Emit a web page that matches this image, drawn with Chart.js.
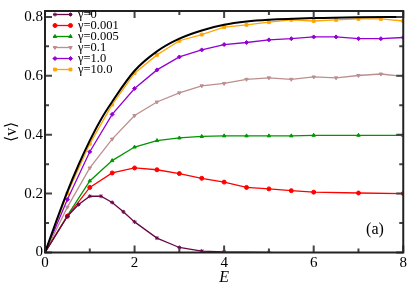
<!DOCTYPE html>
<html>
<head>
<meta charset="utf-8">
<script src="https://cdn.jsdelivr.net/npm/chart.js@4/dist/chart.umd.min.js"></script>
<style>
  html, body { margin: 0; padding: 0; background: #fff; }
  canvas { display: block; }
</style>
</head>
<body>
<canvas id="chart" width="409" height="283"></canvas>
<script>
// field values E on the x axis
const eHalf = [0, 0.5, 1, 1.5, 2, 2.5, 3, 3.5, 4, 4.5, 5, 5.5, 6, 6.5, 7, 7.5, 8]
const eSparse = [0, 0.5, 1, 1.5, 2, 2.5, 3, 3.5, 4, 4.5, 5, 5.5, 6, 7, 8]
const eZero = [0, 0.5, 0.75, 1, 1.25, 1.5, 1.75, 2, 2.5, 3, 3.5, 4, 5]
const eExact = [0, 0.25, 0.5, 0.75, 1, 1.25, 1.5, 2, 2.5, 3, 3.5, 4, 4.5, 5, 6, 7, 8]

// <v> for each gamma
const vGamma0 = [0, 0.123, 0.163, 0.191, 0.191, 0.170, 0.138, 0.104, 0.049, 0.017, 0.005, 0.002, 0.0]
const vGamma0001 = [0, 0.123, 0.221, 0.270, 0.287, 0.281, 0.268, 0.252, 0.239, 0.221, 0.216, 0.210, 0.205, 0.202, 0.200]
const vGamma0005 = [0, 0.125, 0.243, 0.312, 0.358, 0.380, 0.389, 0.394, 0.396, 0.396, 0.396, 0.396, 0.398, 0.398, 0.398]
const vGamma01 = [0, 0.154, 0.287, 0.385, 0.465, 0.511, 0.542, 0.566, 0.574, 0.588, 0.593, 0.588, 0.596, 0.593, 0.601, 0.606, 0.598]
const vGamma1 = [0, 0.180, 0.342, 0.469, 0.557, 0.620, 0.664, 0.688, 0.706, 0.713, 0.722, 0.726, 0.732, 0.732, 0.726, 0.726, 0.730]
const vGamma10 = [0, 0.200, 0.369, 0.502, 0.609, 0.671, 0.719, 0.740, 0.765, 0.773, 0.782, 0.790, 0.786, 0.790, 0.793, 0.793, 0.786]
const vExact = [0, 0.106, 0.207, 0.298, 0.380, 0.452, 0.512, 0.617, 0.683, 0.726, 0.754, 0.773, 0.784, 0.790, 0.796, 0.799, 0.800]

const xTicks = [0, 2, 4, 6, 8]
const yTicks = [0, 0.2, 0.4, 0.6, 0.8]

const serif = '"Liberation Serif", "Times New Roman", serif'

const pair = (xs, ys) => ys.map((y, i) => ({ x: xs[i], y: y }))

const series = function(label, xs, ys, color, style, rotation) {
    return {
        label: label,
        data: pair(xs, ys),
        borderColor: color,
        backgroundColor: color,
        borderWidth: 1.3,
        pointStyle: style,
        pointRotation: rotation || 0,
        pointRadius: 2,
        pointBorderWidth: 1,
        tension: 0
    }
}

const datasets = [
    {
        label: 'exact',
        data: pair(eExact, vExact),
        borderColor: '#000',
        borderWidth: 2,
        pointRadius: 0,
        cubicInterpolationMode: 'monotone',
        legend: false
    },
    series('γ=0', eZero, vGamma0, 'rgb(103,7,72)', 'star'),
    series('γ=0.001', eSparse, vGamma0001, 'rgb(255,0,0)', 'circle'),
    series('γ=0.005', eSparse, vGamma0005, 'rgb(0,150,0)', 'triangle'),
    series('γ=0.1', eHalf, vGamma01, 'rgb(188,143,143)', 'triangle', 180),
    series('γ=1.0', eHalf, vGamma1, 'rgb(148,0,211)', 'rectRot'),
    series('γ=10.0', eHalf, vGamma10, 'rgb(255,165,0)', 'rect')
]

// frame, inward ticks, legend and panel tag
const decor = {
    id: 'decor',
    afterDraw(chart) {
        const ctx = chart.ctx
        const a = chart.chartArea
        const xs = chart.scales.x
        const ys = chart.scales.y
        ctx.save()

        ctx.strokeStyle = '#444'
        ctx.lineWidth = 2
        ctx.beginPath()
        for (let e = 0; e <= 8; e += 1) {
            const px = xs.getPixelForValue(e)
            const len = e % 2 === 0 ? 7 : 4
            ctx.moveTo(px, a.bottom); ctx.lineTo(px, a.bottom - len)
            ctx.moveTo(px, a.top); ctx.lineTo(px, a.top + len)
        }
        for (let k = 0; k <= 8; k++) {
            const py = ys.getPixelForValue(k / 10)
            const len = k % 2 === 0 ? 7 : 4
            ctx.moveTo(a.left, py); ctx.lineTo(a.left + len, py)
            ctx.moveTo(a.right, py); ctx.lineTo(a.right - len, py)
        }
        ctx.stroke()

        ctx.strokeStyle = '#222'
        ctx.lineWidth = 2
        ctx.strokeRect(a.left, a.top, a.right - a.left, a.bottom - a.top)

        // legend
        ctx.font = '12.5px ' + serif
        ctx.textBaseline = 'middle'
        ctx.textAlign = 'left'
        chart.data.datasets.filter((d) => d.legend !== false).forEach((d, i) => {
            const y = 14.5 + 11 * i
            ctx.strokeStyle = d.borderColor
            ctx.fillStyle = d.backgroundColor
            ctx.lineWidth = 1.3
            ctx.beginPath()
            ctx.moveTo(53, y); ctx.lineTo(72, y)
            ctx.stroke()
            ctx.lineWidth = 1
            const opts = { pointStyle: d.pointStyle, radius: 2, rotation: d.pointRotation, borderWidth: 1 }
            Chart.helpers.drawPoint(ctx, opts, 55, y)
            Chart.helpers.drawPoint(ctx, opts, 70.5, y)
            ctx.fillStyle = '#000'
            ctx.fillText(d.label, 78, y + 0.5)
        })

        ctx.font = '16px ' + serif
        ctx.textAlign = 'center'
        ctx.fillStyle = '#000'
        ctx.fillText('(a)', 375, 230)
        ctx.restore()
    }
}

new Chart(document.getElementById('chart'), {
    type: 'line',
    data: { datasets: datasets },
    plugins: [decor],
    options: {
        responsive: false,
        animation: false,
        devicePixelRatio: 1,
        layout: { padding: { top: 2.5, right: 4, left: 0, bottom: 0 } },
        plugins: {
            legend: { display: false },
            tooltip: { enabled: false }
        },
        scales: {
            x: {
                type: 'linear',
                min: 0,
                max: 8,
                afterFit: (s) => { s.height = 30.5 },
                afterBuildTicks: (s) => { s.ticks = xTicks.map((v) => ({ value: v })) },
                grid: { display: false, drawTicks: false },
                border: { display: false },
                ticks: { color: '#000', padding: 2, font: { family: serif, size: 15 } },
                title: {
                    display: true,
                    text: 'E',
                    color: '#000',
                    padding: { top: 0, bottom: -2.5 },
                    font: { family: serif, size: 16, style: 'italic', lineHeight: 1 }
                }
            },
            y: {
                type: 'linear',
                min: 0,
                max: 0.82,
                afterFit: (s) => { s.width = 45 },
                afterBuildTicks: (s) => { s.ticks = yTicks.map((v) => ({ value: v })) },
                grid: { display: false, drawTicks: false },
                border: { display: false },
                ticks: { color: '#000', padding: 2, font: { family: serif, size: 15 } },
                title: {
                    display: true,
                    text: '⟨v⟩',
                    color: '#000',
                    padding: { top: 2, bottom: 0 },
                    font: { family: serif, size: 16 }
                }
            }
        }
    }
})
</script>
</body>
</html>
